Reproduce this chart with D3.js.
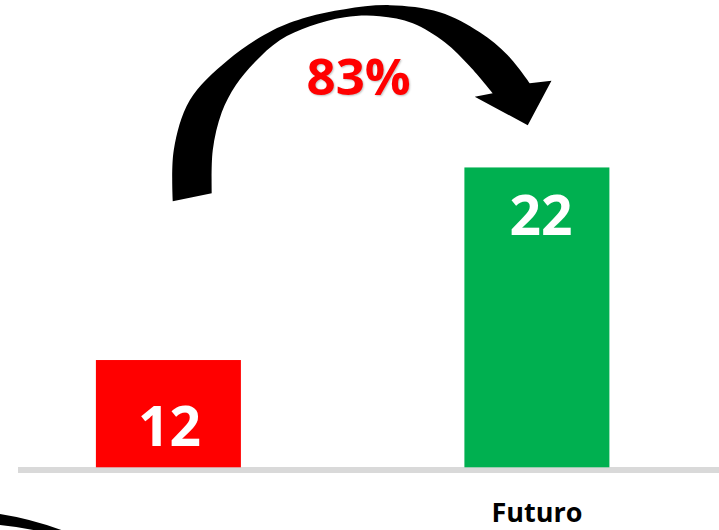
<!DOCTYPE html>
<html>
<head>
<meta charset="utf-8">
<script src="https://cdn.jsdelivr.net/npm/d3@7"></script>
<style>
  html, body { margin: 0; padding: 0; background: #ffffff; }
  svg { display: block; }
  text { font-family: "Open Sans", "Noto Sans", sans-serif; font-weight: 700; }
</style>
</head>
<body>
<svg id="chart" width="719" height="530"></svg>
<script>
// ---- data ----
const categories = ["", "Futuro"];
const values = [12, 22];
const barColors = ["#ff0000", "#00b050"];

// ---- layout ----
const W = 719, H = 530;
const svg = d3.select("#chart");

const x = d3.scaleBand()
  .domain(categories)
  .range([18, 687.3])
  .paddingInner(0.6065)
  .paddingOuter(0.2114);

const y = d3.scaleLinear()
  .domain([6.43, 28])
  .range([467.3, 51.9]);

// baseline (category axis line)
const baseY = y.range()[0];
svg.append("rect")
  .attr("x", 18).attr("y", baseY - 0.3)
  .attr("width", W - 18).attr("height", 6)
  .attr("fill", "#d9d9d9");

// bars
svg.selectAll("rect.bar")
  .data(values)
  .join("rect")
  .attr("class", "bar")
  .attr("x", (d, i) => x(categories[i]))
  .attr("y", d => y(d))
  .attr("width", x.bandwidth())
  .attr("height", d => baseY - y(d))
  .attr("fill", (d, i) => barColors[i]);

// value labels
const labelDy = [86, 68];
const labelDx = [1, 4];
svg.selectAll("text.val")
  .data(values)
  .join("text")
  .attr("class", "val")
  .attr("x", (d, i) => x(categories[i]) + x.bandwidth() / 2 + labelDx[i])
  .attr("y", (d, i) => y(d) + labelDy[i])
  .attr("text-anchor", "middle")
  .attr("font-size", 55)
  .attr("fill", "#ffffff")
  .text(d => d);

// category labels
svg.selectAll("text.cat")
  .data(categories)
  .join("text")
  .attr("class", "cat")
  .attr("x", d => x(d) + x.bandwidth() / 2)
  .attr("y", baseY + 55)
  .attr("text-anchor", "middle")
  .attr("font-size", 27)
  .attr("fill", "#000000")
  .text(d => d);

// ---- curved arrow annotation (anchored to bar positions) ----
const cx0 = x(categories[0]) + x.bandwidth() / 2;
const cx1 = x(categories[1]) + x.bandwidth() / 2;
const g = svg.append("g")
  .attr("transform", `translate(${cx0 - 168.65},${y(values[1]) - 167.3})`);

const outer = [[173,201],[174,150],[190,100],[228,60],[273,30],[307,17],[345,9],[390,5],[440,12],[480,32],[508,55],[530,83]];
const head = [[551.7,80.7],[528,125],[475,96.7],[493,93]];
const inner = [[493,93],[470,66],[445,42],[413,23],[380,16],[345,17],[310,26],[280,40],[255,62],[236,85],[222,112],[213,150],[212,193]];

const curve = d3.line().curve(d3.curveCatmullRom.alpha(0.5));
const lin = pts => pts.map(p => "L" + p[0] + "," + p[1]).join("");
const dArrow = curve(outer) + lin(head) + curve(inner).replace(/^M/, "L") + "Z";
g.append("path").attr("d", dArrow).attr("fill", "#000000");

// partial second arrow at bottom-left
const bl = d3.path();
bl.moveTo(0, 514);
bl.quadraticCurveTo(32, 519, 64, 531);
bl.lineTo(38, 531);
bl.quadraticCurveTo(20, 527, 0, 525);
bl.closePath();
svg.append("path").attr("d", bl.toString()).attr("fill", "#000000");

// percent change label
const pct = d3.format(".0%")((values[1] - values[0]) / values[0]);
svg.append("text")
  .attr("x", (cx0 + cx1) / 2 + 6)
  .attr("y", 95)
  .attr("text-anchor", "middle")
  .attr("font-size", 51)
  .attr("fill", "#ff0000")
  .style("text-shadow", "1px 1px 2px rgba(0,0,0,0.25)")
  .text(pct);
</script>
</body>
</html>
